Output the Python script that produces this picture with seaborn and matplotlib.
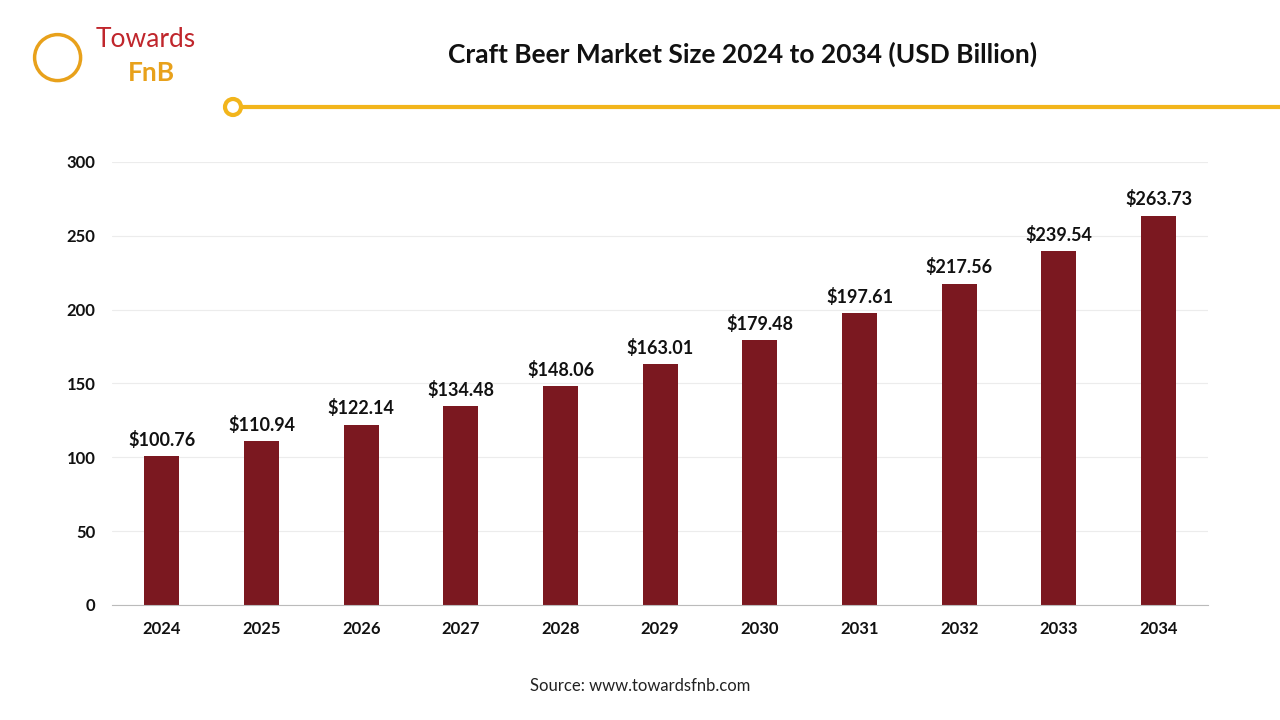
import pandas as pd
import matplotlib.pyplot as plt
import seaborn as sns
from matplotlib.patches import Ellipse
from matplotlib.lines import Line2D

# data
years = ['2024', '2025', '2026', '2027', '2028', '2029', '2030', '2031', '2032', '2033', '2034']
values = [100.76, 110.94, 122.14, 134.48, 148.06, 163.01, 179.48, 197.61, 217.56, 239.54, 263.73]
yticks = [0, 50, 100, 150, 200, 250, 300]

sns.set_style('white')
plt.rcParams['font.family'] = ['Lato', 'DejaVu Sans']

df = pd.DataFrame({'year': years, 'value': values})

fig = plt.figure(figsize=(12.8, 7.2), dpi=100)
ax = fig.add_axes([0.0875, 0.16, 0.8565, 0.615])
sns.barplot(data=df, x='year', y='value', color='#7B1820', width=0.35, saturation=1,
            linewidth=0, ax=ax)

for i, v in enumerate(values):
    ax.text(i, v + 5, f'${v:.2f}', ha='center', va='bottom', fontsize=13, fontweight='bold', color='#111111')

ax.set_ylim(0, 300)
ax.set_yticks(yticks)
ax.set_xlim(-0.5, len(years) - 0.5)
ax.set_xlabel('')
ax.set_ylabel('')
ax.grid(axis='y', color='#ececec', linewidth=0.8)
ax.set_axisbelow(True)
for s in ['top', 'right', 'left']:
    ax.spines[s].set_visible(False)
ax.spines['bottom'].set_color('#bbbbbb')
ax.tick_params(axis='both', length=0, labelsize=12, pad=12)
for lbl in ax.get_xticklabels() + ax.get_yticklabels():
    lbl.set_fontweight('bold')
    lbl.set_color('#111111')

# title and header
fig.text(0.58, 0.925, 'Craft Beer Market Size 2024 to 2034 (USD Billion)', ha='center', va='center',
         fontsize=19, fontweight='bold', color='#111111')
fig.add_artist(Line2D([233 / 1280, 1.0], [1 - 107 / 720] * 2, color='#F2B51C', linewidth=3))
fig.add_artist(Ellipse((233 / 1280, 1 - 107 / 720), 16 / 1280, 16 / 720, transform=fig.transFigure,
                       facecolor='white', edgecolor='#F2B51C', linewidth=3, zorder=5))

# logo text
fig.text(0.075, 0.945, 'Towards', ha='left', va='center', fontsize=19, color='#C0262C')
fig.text(0.1, 0.898, 'FnB', ha='left', va='center', fontsize=19, fontweight='bold', color='#E8A11B')
fig.add_artist(Ellipse((0.045, 0.92), 46 / 1280, 46 / 720, transform=fig.transFigure, facecolor='none',
                       edgecolor='#E8A11B', linewidth=2.5))

fig.text(0.5, 0.047, 'Source: www.towardsfnb.com', ha='center', va='center', fontsize=12, color='#222222')

fig.savefig('out.png', dpi=100)
